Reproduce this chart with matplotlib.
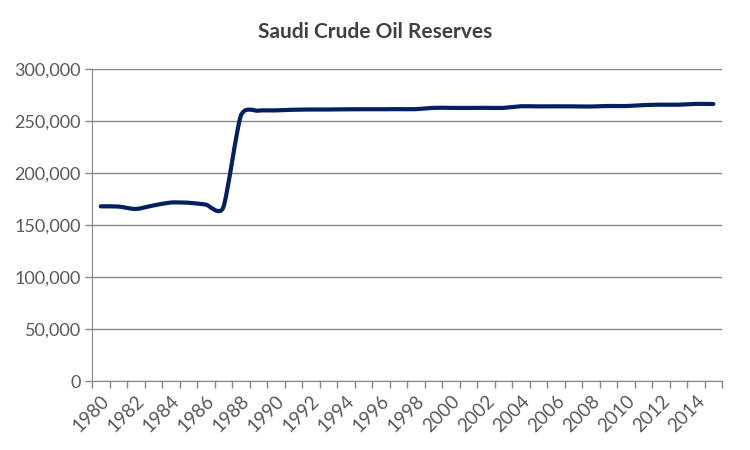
import matplotlib
matplotlib.use('Agg')
import matplotlib.pyplot as plt
from matplotlib.path import Path
from matplotlib.patches import PathPatch
from matplotlib.ticker import FuncFormatter

years = list(range(1980, 2016))
reserves = [168030, 167850, 165480, 168850, 171710, 171490, 169744, 166980,
            254989, 260050, 260342, 260936, 261203, 261203, 261374, 261450,
            261444, 261541, 261542, 262784, 262766, 262697, 262790, 262730,
            264310, 264211, 264251, 264209, 264063, 264590, 264516, 265405,
            265850, 265789, 266578, 266455]

plt.rcParams['font.family'] = ['Lato', 'DejaVu Sans']
grey = '#595959'
line_col = '#002060'

fig = plt.figure(figsize=(7.5, 4.5), dpi=100)
ax = fig.add_axes([0.1227, 0.1533, 0.84, 0.693])

x = list(range(len(years)))

# smoothed line like excel: cardinal spline as cubic bezier segments
k = 0.11
verts = [(x[0], reserves[0])]
codes = [Path.MOVETO]
n = len(x)
for i in range(n - 1):
    p0 = (x[max(i - 1, 0)], reserves[max(i - 1, 0)])
    p1 = (x[i], reserves[i])
    p2 = (x[i + 1], reserves[i + 1])
    p3 = (x[min(i + 2, n - 1)], reserves[min(i + 2, n - 1)])
    c1 = (p1[0] + (p2[0] - p0[0]) * k, p1[1] + (p2[1] - p0[1]) * k)
    c2 = (p2[0] - (p3[0] - p1[0]) * k, p2[1] - (p3[1] - p1[1]) * k)
    verts += [c1, c2, p2]
    codes += [Path.CURVE4] * 3
patch = PathPatch(Path(verts, codes), facecolor='none', edgecolor=line_col,
                  lw=3.0, capstyle='round', joinstyle='round', zorder=3)
ax.add_patch(patch)

ax.set_xlim(-0.5, len(years) - 0.5)
ax.set_ylim(0, 300000)

ax.set_yticks(range(0, 300001, 50000))
ax.yaxis.set_major_formatter(FuncFormatter(lambda v, p: '{:,.0f}'.format(v)))
ax.grid(axis='y', color='#868686', lw=1)
ax.set_axisbelow(True)

ax.set_xticks(x[::2])
ax.set_xticklabels([str(y) for y in years[::2]], rotation=45, ha='right',
                   va='top', rotation_mode='anchor')
ax.set_xticks([i - 0.5 for i in range(len(years) + 1)], minor=True)
ax.tick_params(axis='x', which='major', length=0, pad=8, labelsize=13.5, labelcolor=grey)
ax.tick_params(axis='x', which='minor', length=5, color='#868686', width=1)
ax.tick_params(axis='y', length=5, color='#868686', width=1, labelsize=13,
               labelcolor=grey, pad=3)

for s in ['top', 'right']:
    ax.spines[s].set_visible(False)
ax.spines['left'].set_color('#868686')
ax.spines['bottom'].set_color('#868686')

fig.text(0.5, 0.929, 'Saudi Crude Oil Reserves', ha='center', va='center',
         fontsize=15, fontweight='bold', color='#404040')

fig.savefig('out.png', dpi=100)
